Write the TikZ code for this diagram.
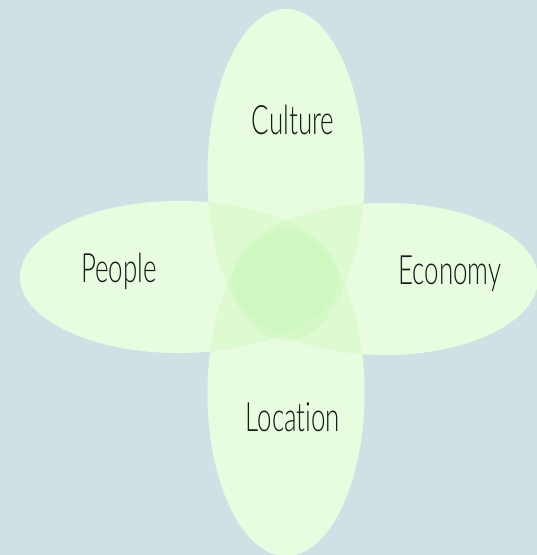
\documentclass[tikz,border=0pt]{standalone}
\usepackage{fontspec}
\newfontfamily\lblfont[FakeStretch=0.64, UprightFont={* Light}, Ligatures=NoCommon]{Lato}
\definecolor{bgcol}{RGB}{208,224,228}
\definecolor{petalbase}{RGB}{249,255,244}
\definecolor{petaltint}{RGB}{196,246,177}
\begin{document}
\begin{tikzpicture}[x=1pt,y=-1pt,
  lbl/.style={font=\lblfont\fontsize{40.5}{42}\selectfont, text=black!90, inner sep=0pt}]
\fill[bgcol] (0,0) rectangle (537,555);
\useasboundingbox (0,0) rectangle (537,555);
% opaque base for the four petals
\foreach \cx/\cy/\rx/\ry in {286/175/78.5/166, 286/393/78.5/163, 179/277/159/76, 385/279/153/76}
  \fill[petalbase] (\cx,\cy) ellipse [x radius=\rx, y radius=\ry];
% translucent tint, darker where petals overlap
\foreach \cx/\cy/\rx/\ry in {286/175/78.5/166, 286/393/78.5/163, 179/277/159/76, 385/279/153/76}
  \fill[petaltint, fill opacity=0.3] (\cx,\cy) ellipse [x radius=\rx, y radius=\ry];
\node[lbl] (culture) at (293,120) {Culture};
\node[lbl] (people) at (119,271) {People};
\node[lbl] (economy) at (450,274) {Economy};
\node[lbl] (location) at (293,417) {Location};
\end{tikzpicture}
\end{document}
